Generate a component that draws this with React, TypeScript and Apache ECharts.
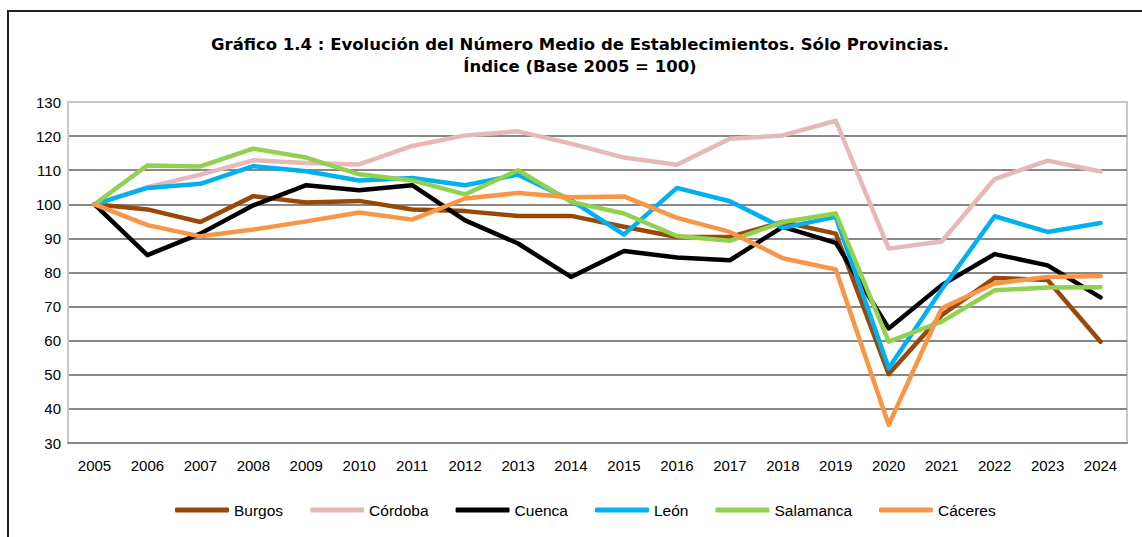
import React, { useEffect, useRef } from "react";
import * as echarts from "echarts";

const years = ["2005","2006","2007","2008","2009","2010","2011","2012","2013","2014","2015","2016","2017","2018","2019","2020","2021","2022","2023","2024"];

const burgos = [100, 98.5, 94.8, 102.4, 100.5, 101, 98.5, 98, 96.6, 96.6, 93.4, 90.4, 90.4, 94.8, 91.4, 50.2, 67.5, 78.4, 77.8, 59.7];
const cordoba = [100, 105, 108.7, 112.9, 112.1, 111.7, 117.1, 120.2, 121.4, 117.8, 113.7, 111.6, 119.2, 120.2, 124.5, 87, 89.1, 107.4, 112.8, 109.6];
const cuenca = [100, 85.1, 91.4, 99.7, 105.6, 104.1, 105.6, 95.3, 88.5, 78.7, 86.3, 84.4, 83.6, 93.4, 88.7, 63.6, 76.3, 85.4, 82.1, 72.7];
const leon = [100, 104.8, 106, 111.2, 109.7, 107, 107.7, 105.6, 108.7, 101.2, 91.1, 104.8, 100.9, 93.1, 96.3, 51.9, 75, 96.5, 91.9, 94.5];
const salamanca = [100, 111.4, 111.1, 116.3, 113.7, 108.8, 107, 102.9, 110, 100.7, 97.3, 90.7, 89.3, 94.8, 97.3, 59.7, 65.6, 74.8, 75.6, 75.7];
const caceres = [100, 93.9, 90.6, 92.6, 95, 97.6, 95.5, 101.7, 103.3, 102.1, 102.3, 96, 91.9, 84.2, 80.9, 35.3, 69.5, 76.8, 78.7, 79];

const seriesNames = ["Burgos", "Córdoba", "Cuenca", "León", "Salamanca", "Cáceres"];
const seriesData = [burgos, cordoba, cuenca, leon, salamanca, caceres];
const seriesColors = ["#984807", "#E6B9B8", "#000000", "#00B0F0", "#92D050", "#F79646"];

const titleLine1 = "Gráfico 1.4 : Evolución del Número Medio de Establecimientos. Sólo Provincias.";
const titleLine2 = "Índice (Base 2005 = 100)";

export default function App() {
  const ref = useRef<HTMLDivElement>(null);
  useEffect(() => {
    if (!ref.current) return;
    const chart = echarts.init(ref.current, null, { renderer: "svg" });
    const font = "Liberation Sans, Arial, sans-serif";
    const titleFont = "DejaVu Sans, Verdana, sans-serif";
    const splitColors = [
      "#888888", "#888888", "#888888", "#888888", "#888888", "#888888",
      "#888888", "#888888", "#888888", "#888888", "#C8C8C8",
    ];
    chart.setOption({
      animation: false,
      backgroundColor: "#ffffff",
      textStyle: { fontFamily: font },
      graphic: [
        {
          type: "rect",
          silent: true,
          shape: { x: 8, y: 11, width: 1300, height: 700 },
          style: { fill: "none", stroke: "#222222", lineWidth: 2 },
        },
        {
          type: "text",
          x: 580,
          y: 44,
          style: {
            text: titleLine1,
            fontFamily: titleFont,
            fontWeight: "bold",
            fontSize: 16.5,
            fill: "#000",
            textAlign: "center",
            textVerticalAlign: "middle",
          },
        },
        {
          type: "text",
          x: 580,
          y: 66,
          style: {
            text: titleLine2,
            fontFamily: titleFont,
            fontWeight: "bold",
            fontSize: 16.5,
            fill: "#000",
            textAlign: "center",
            textVerticalAlign: "middle",
          },
        },
      ],
      grid: {
        left: 68,
        right: 15,
        top: 102,
        bottom: 94,
        containLabel: false,
        show: true,
        borderColor: "#C8C8C8",
        borderWidth: 2,
      },
      legend: {
        left: 175,
        top: 502,
        padding: 0,
        itemWidth: 54,
        itemHeight: 5,
        itemGap: 27,
        icon: "roundRect",
        textStyle: { fontSize: 15.5, color: "#000", fontFamily: font },
        data: seriesNames,
      },
      xAxis: {
        type: "category",
        data: years,
        boundaryGap: true,
        axisLine: { show: true, lineStyle: { color: "#888888", width: 2 } },
        axisTick: { show: false },
        axisLabel: { fontSize: 15, color: "#000", margin: 15, fontFamily: font, interval: 0 },
        splitLine: { show: false },
      },
      yAxis: {
        type: "value",
        min: 30,
        max: 130,
        interval: 10,
        axisLine: { show: true, lineStyle: { color: "#C8C8C8", width: 2 } },
        axisTick: { show: false },
        axisLabel: { fontSize: 15, color: "#000", margin: 7, fontFamily: font },
        splitLine: { show: true, lineStyle: { color: splitColors, width: 2 } },
      },
      series: seriesNames.map((name, i) => ({
        name,
        type: "line",
        data: seriesData[i],
        symbol: "none",
        showSymbol: false,
        color: seriesColors[i],
        lineStyle: { width: 4.5, color: seriesColors[i], cap: "round", join: "round" },
        itemStyle: { color: seriesColors[i] },
      })),
    });
    return () => chart.dispose();
  }, []);
  return (
    <div
      ref={ref}
      style={{ position: "absolute", left: 0, top: 0, width: 1142, height: 537 }}
    />
  );
}
